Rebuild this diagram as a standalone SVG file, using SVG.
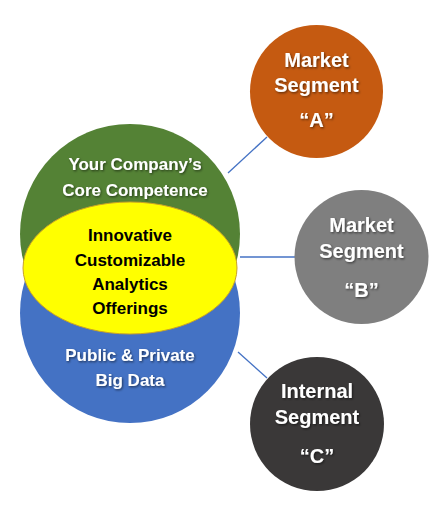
<svg xmlns="http://www.w3.org/2000/svg" width="436" height="513" viewBox="0 0 436 513">
<defs>
<filter id="ts" x="-10%" y="-30%" width="130%" height="170%">
<feDropShadow dx="1" dy="1.2" stdDeviation="0.8" flood-color="#000" flood-opacity="0.55"/>
</filter>
<style>
.w{fill:#fff;font-family:"Liberation Sans",Arial,sans-serif;font-weight:bold;text-anchor:middle;filter:url(#ts)}
.b{fill:#000;font-family:"Liberation Sans",Arial,sans-serif;font-weight:bold;text-anchor:middle;font-size:17px}
.s{font-size:17px}
.l{font-size:20px}
.c{stroke:#4472C4;stroke-width:1.3;fill:none}
</style>
</defs>
<rect width="436" height="513" fill="#fff"/>
<g id="connectors">
<line class="c" x1="228" y1="173" x2="267" y2="137"/>
<line class="c" x1="240" y1="257" x2="295" y2="257"/>
<line class="c" x1="238" y1="352" x2="267" y2="378"/>
</g>
<g id="core">
<circle cx="130" cy="234" r="110" fill="#548235"/>
</g>
<g id="bigdata">
<circle cx="130" cy="313" r="110" fill="#4472C4"/>
</g>
<g id="offerings">
<ellipse cx="130" cy="268" rx="107" ry="66" fill="#FFFF00" stroke="#C9A227" stroke-width="1"/>
</g>
<g id="core-text">
<text class="w s" x="135" y="170">Your Company’s</text>
<text class="w s" x="135" y="196">Core Competence</text>
</g>
<g id="offerings-text">
<text class="b" x="130" y="241">Innovative</text>
<text class="b" x="130" y="266">Customizable</text>
<text class="b" x="130" y="290">Analytics</text>
<text class="b" x="130" y="314">Offerings</text>
</g>
<g id="bigdata-text">
<text class="w s" x="130" y="361">Public &amp; Private</text>
<text class="w s" x="130" y="386">Big Data</text>
</g>
<g id="segA">
<circle cx="316.5" cy="91.5" r="66.5" fill="#C55A11"/>
<text class="w l" x="316.5" y="67">Market</text>
<text class="w l" x="316.5" y="92">Segment</text>
<text class="w l" x="316.5" y="127">“A”</text>
</g>
<g id="segB">
<circle cx="361.5" cy="257" r="67" fill="#7F7F7F"/>
<text class="w l" x="361.5" y="232">Market</text>
<text class="w l" x="361.5" y="258">Segment</text>
<text class="w l" x="361.5" y="297">“B”</text>
</g>
<g id="segC">
<circle cx="317" cy="424" r="67" fill="#3A3838"/>
<text class="w l" x="317" y="398">Internal</text>
<text class="w l" x="317" y="424">Segment</text>
<text class="w l" x="317" y="463">“C”</text>
</g>
</svg>
